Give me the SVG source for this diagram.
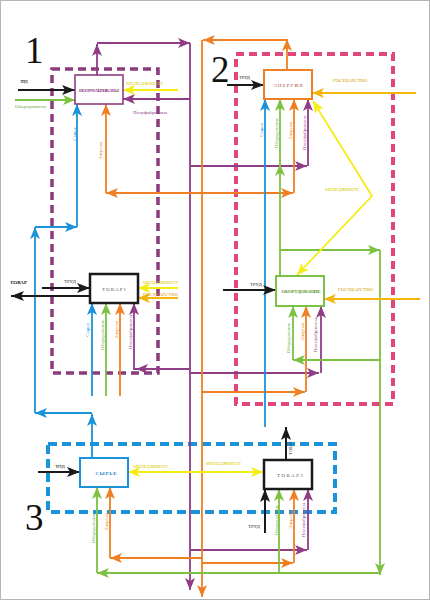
<svg xmlns="http://www.w3.org/2000/svg" width="430" height="600" viewBox="0 0 430 600">
<style>
.c{fill:none;stroke-width:1.8}
.p{stroke:#8f3d84}.o{stroke:#ef7f22}.b{stroke:#1b93d8}.g{stroke:#7cc142}.k{stroke:#1a1a1a;stroke-width:2}.y{stroke:#f5ec12}.gd{stroke:#f5b50f}
.box{fill:#fff}
.t{font-family:"Liberation Serif","DejaVu Serif",serif}
.s{font-size:5px}
.n{font-family:"Liberation Serif","DejaVu Serif",serif;font-size:37px;fill:#111}
</style>
<defs>
<marker id="aP" markerUnits="userSpaceOnUse" markerWidth="12" markerHeight="10" refX="12" refY="5" orient="auto"><path d="M0,0 L12,5 L0,10 L3,5 z" fill="#8f3d84"/></marker>
<marker id="aO" markerUnits="userSpaceOnUse" markerWidth="12" markerHeight="10" refX="12" refY="5" orient="auto"><path d="M0,0 L12,5 L0,10 L3,5 z" fill="#ef7f22"/></marker>
<marker id="aB" markerUnits="userSpaceOnUse" markerWidth="12" markerHeight="10" refX="12" refY="5" orient="auto"><path d="M0,0 L12,5 L0,10 L3,5 z" fill="#1b93d8"/></marker>
<marker id="aG" markerUnits="userSpaceOnUse" markerWidth="12" markerHeight="10" refX="12" refY="5" orient="auto"><path d="M0,0 L12,5 L0,10 L3,5 z" fill="#7cc142"/></marker>
<marker id="aK" markerUnits="userSpaceOnUse" markerWidth="13" markerHeight="10" refX="13" refY="5" orient="auto"><path d="M0,0 L13,5 L0,10 L3,5 z" fill="#1a1a1a"/></marker>
<marker id="aY" markerUnits="userSpaceOnUse" markerWidth="12" markerHeight="10" refX="12" refY="5" orient="auto"><path d="M0,0 L12,5 L0,10 L3,5 z" fill="#f5ec12"/></marker>
<marker id="aGd" markerUnits="userSpaceOnUse" markerWidth="12" markerHeight="10" refX="12" refY="5" orient="auto"><path d="M0,0 L12,5 L0,10 L3,5 z" fill="#f5b50f"/></marker>
</defs>
<rect x="0.5" y="0.5" width="429" height="599" fill="#fff" stroke="#b5b5b5"/>

<g id="frames" fill="none">
<rect x="52" y="69" width="106" height="304" stroke="#8b3a7d" stroke-width="3.5" stroke-dasharray="8 5"/>
<rect x="236" y="54" width="157" height="350" stroke="#e0487a" stroke-width="4" stroke-dasharray="8 5"/>
<rect x="48" y="444" width="287" height="68" stroke="#1b93d8" stroke-width="4" stroke-dasharray="9 5"/>
<text class="n" x="25" y="63">1</text>
<text class="n" x="211" y="82">2</text>
<text class="n" x="25" y="530">3</text>
</g>

<g id="connectors">
<!-- purple -->
<path class="c p" d="M97,75 V44" marker-end="url(#aP)"/>
<path class="c p" d="M97,43 H190" marker-end="url(#aP)"/>
<path class="c p" d="M190,43 V590" marker-end="url(#aP)"/>
<path class="c p" d="M190,99 H123" marker-end="url(#aP)"/>
<path class="c p" d="M190,166 H307" marker-end="url(#aP)"/>
<path class="c p" d="M308,166 V99" marker-end="url(#aP)"/>
<path class="c p" d="M190,369 H136" marker-end="url(#aP)"/>
<path class="c p" d="M136,369 H134 V303" marker-end="url(#aP)"/>
<path class="c p" d="M190,373 H319" marker-end="url(#aP)"/>
<path class="c p" d="M321,373 V306" marker-end="url(#aP)"/>
<path class="c p" d="M190,550 H307" marker-end="url(#aP)"/>
<path class="c p" d="M308,550 V489" marker-end="url(#aP)"/>
<!-- orange -->
<path class="c o" d="M287,70 V39" marker-end="url(#aO)"/>
<path class="c o" d="M287,40 H203" marker-end="url(#aO)"/>
<path class="c o" d="M202,40 V597" marker-end="url(#aO)"/>
<path class="c o" d="M202,193 H106" marker-end="url(#aO)"/>
<path class="c o" d="M106,193 V104" marker-end="url(#aO)"/>
<path class="c o" d="M202,193 H293" marker-end="url(#aO)"/>
<path class="c o" d="M294,193 V99" marker-end="url(#aO)"/>
<path class="c o" d="M202,392 H305" marker-end="url(#aO)"/>
<path class="c o" d="M306,392 V306" marker-end="url(#aO)"/>
<path class="c o" d="M120,396 V303" marker-end="url(#aO)"/>
<path class="c o" d="M202,558 H110" marker-end="url(#aO)"/>
<path class="c o" d="M110,558 V487" marker-end="url(#aO)"/>
<path class="c o" d="M202,563 H293" marker-end="url(#aO)"/>
<path class="c o" d="M294,563 V489" marker-end="url(#aO)"/>
<!-- blue -->
<path class="c b" d="M92,458 V414" marker-end="url(#aB)"/>
<path class="c b" d="M92,413 H35" marker-end="url(#aB)"/>
<path class="c b" d="M35,413 V227" marker-end="url(#aB)"/>
<path class="c b" d="M35,227 H77" marker-end="url(#aB)"/>
<path class="c b" d="M77,227 V104" marker-end="url(#aB)"/>
<path class="c b" d="M265,427 V99" marker-end="url(#aB)"/>
<path class="c b" d="M92,396 V303" marker-end="url(#aB)"/>
<!-- green -->
<path class="c g" d="M280,276 V164" marker-end="url(#aG)"/>
<path class="c g" d="M280,166 V99" marker-end="url(#aG)"/>
<path class="c g" d="M280,250 H380" marker-end="url(#aG)"/>
<path class="c g" d="M380,250 V575" marker-end="url(#aG)"/>
<path class="c g" d="M380,360 H293" marker-end="url(#aG)"/>
<path class="c g" d="M293,360 V306" marker-end="url(#aG)"/>
<path class="c g" d="M380,573 H97" marker-end="url(#aG)"/>
<path class="c g" d="M97,573 V487" marker-end="url(#aG)"/>
<path class="c g" d="M279,573 V489" marker-end="url(#aG)"/>
<path class="c g" d="M106,396 V303" marker-end="url(#aG)"/>
<path class="c g" d="M15,100 H75" marker-end="url(#aG)"/>
<!-- black -->
<path class="c k" d="M18,90 H75" marker-end="url(#aK)"/>
<path class="c k" d="M227,85 H264" marker-end="url(#aK)"/>
<path class="c k" d="M223,290 H276" marker-end="url(#aK)"/>
<path class="c k" d="M42,288 H90" marker-end="url(#aK)"/>
<path class="c k" d="M90,296 H11" marker-end="url(#aK)"/>
<path class="c k" d="M38,472 H80" marker-end="url(#aK)"/>
<path class="c k" d="M265,533 V489" marker-end="url(#aK)"/>
<path class="c k" d="M286,460 V427" marker-end="url(#aK)"/>
<!-- yellow / gold -->
<path class="c y" d="M178,90 H123" marker-end="url(#aY)"/>
<path class="c y" d="M372,196 L313,101" marker-end="url(#aY)"/>
<path class="c y" d="M372,196 L297,275" marker-end="url(#aY)"/>
<path class="c y" d="M178,288 H138" marker-end="url(#aY)"/>
<path class="c y" d="M195,472 H128" marker-end="url(#aY)"/>
<path class="c y" d="M195,472 H263" marker-end="url(#aY)"/>
<path class="c gd" d="M416,93 H312" marker-end="url(#aGd)"/>
<path class="c gd" d="M420,299 H324" marker-end="url(#aGd)"/>
<path class="c gd" d="M178,298 H138" marker-end="url(#aGd)"/>

<!-- connector labels -->
<g class="t s">
<text x="20" y="83" fill="#333" textLength="8">ТРУД</text>
<text x="15" y="108" fill="#6aa83a" textLength="32">Оборудование</text>
<text x="126" y="85" fill="#d9cc00" textLength="37">МЕНЕДЖМЕНТ</text>
<text x="133" y="114" fill="#8f3d84" textLength="34">Полуфабрикаты</text>
<text x="239" y="79" fill="#333" textLength="11">ТРУД</text>
<text x="333" y="82" fill="#d49a00" textLength="34">ГОСУДАРСТВО</text>
<text x="325" y="191" fill="#d9cc00" textLength="34">МЕНЕДЖМЕНТ</text>
<text x="250" y="286" fill="#333" textLength="12">ТРУД</text>
<text x="338" y="291" fill="#d49a00" textLength="35">ГОСУДАРСТВО</text>
<text x="10" y="284" fill="#111" font-weight="bold" textLength="17">ТОВАР</text>
<text x="64" y="283" fill="#333" textLength="12">ТРУД</text>
<text x="143" y="284" fill="#d9cc00" textLength="35">МЕНЕДЖМЕНТ</text>
<text x="143" y="296" fill="#d49a00" textLength="35">ГОСУДАРСТВО</text>
<text x="55" y="468" fill="#333" textLength="10">ТРУД</text>
<text x="133" y="468" fill="#d9cc00" textLength="35">МЕНЕДЖМЕНТ</text>
<text x="206" y="465" fill="#d9cc00" textLength="35">МЕНЕДЖМЕНТ</text>
<text x="248" y="528" fill="#333" textLength="12">ТРУД</text>
<text transform="translate(292,448) rotate(-90)" text-anchor="middle" fill="#333" font-size="4">ТОВАР</text>
<!-- rotated input labels -->
<text transform="translate(76,134) rotate(-90)" text-anchor="middle" fill="#1b93d8">Сырье</text>
<text transform="translate(102,151) rotate(-90)" text-anchor="middle" fill="#ef7f22">Энергия</text>
<text transform="translate(263,130) rotate(-90)" text-anchor="middle" fill="#1b93d8">Сырье</text>
<text transform="translate(278,133) rotate(-90)" text-anchor="middle" fill="#6aa83a">Оборудование</text>
<text transform="translate(292,131) rotate(-90)" text-anchor="middle" fill="#ef7f22">Энергия</text>
<text transform="translate(306,133) rotate(-90)" text-anchor="middle" fill="#8f3d84">Полуфабрикаты</text>
<text transform="translate(89,330) rotate(-90)" text-anchor="middle" fill="#1b93d8">Сырье</text>
<text transform="translate(104,335) rotate(-90)" text-anchor="middle" fill="#6aa83a">Оборудование</text>
<text transform="translate(118,330) rotate(-90)" text-anchor="middle" fill="#ef7f22">Энергия</text>
<text transform="translate(132,332) rotate(-90)" text-anchor="middle" fill="#8f3d84">Полуфабрикаты</text>
<text transform="translate(290,338) rotate(-90)" text-anchor="middle" fill="#6aa83a">Оборудование</text>
<text transform="translate(304,332) rotate(-90)" text-anchor="middle" fill="#ef7f22">Энергия</text>
<text transform="translate(317,335) rotate(-90)" text-anchor="middle" fill="#8f3d84">Полуфабрикаты</text>
<text transform="translate(95,528) rotate(-90)" text-anchor="middle" fill="#6aa83a">Оборудование</text>
<text transform="translate(108,522) rotate(-90)" text-anchor="middle" fill="#ef7f22">Энергия</text>
<text transform="translate(278,520) rotate(-90)" text-anchor="middle" fill="#6aa83a">Оборудование</text>
<text transform="translate(292,520) rotate(-90)" text-anchor="middle" fill="#ef7f22">Энергия</text>
<text transform="translate(305,520) rotate(-90)" text-anchor="middle" fill="#8f3d84">Полуфабрикаты</text>
</g>
</g>

<g id="polufabrikaty">
<rect class="box" x="75" y="75" width="48" height="29" stroke="#8f3d84" stroke-width="1.6"/>
<text class="t" x="99" y="91.5" font-size="5" text-anchor="middle" fill="#8f3d84" font-weight="bold" textLength="40">ПОЛУФАБРИКАТЫ</text>
</g>
<g id="energiya">
<rect class="box" x="264" y="70" width="48" height="29" stroke="#ef7f22" stroke-width="2"/>
<text class="t" x="288" y="87" font-size="5" text-anchor="middle" fill="#a0522d" textLength="29">ЭНЕРГИЯ</text>
</g>
<g id="tovar1">
<rect class="box" x="90" y="274" width="48" height="29" stroke="#1a1a1a" stroke-width="2.5"/>
<text class="t" x="114" y="291" font-size="5" text-anchor="middle" fill="#555" textLength="24">ТОВАР1</text>
</g>
<g id="oborudovanie">
<rect class="box" x="276" y="276" width="48" height="30" stroke="#7cc142" stroke-width="2"/>
<text class="t" x="301" y="293" font-size="5" text-anchor="middle" fill="#5e9a30" font-weight="bold" textLength="39">ОБОРУДОВАНИЕ</text>
</g>
<g id="syrye">
<rect class="box" x="80" y="458" width="48" height="29" stroke="#1b93d8" stroke-width="2"/>
<text class="t" x="106" y="475" font-size="5" text-anchor="middle" fill="#1b7fc0" font-weight="bold" textLength="21">СЫРЬЕ</text>
</g>
<g id="tovar2">
<rect class="box" x="264" y="460" width="48" height="29" stroke="#1a1a1a" stroke-width="2.5"/>
<text class="t" x="290" y="477" font-size="5" text-anchor="middle" fill="#555" textLength="26">ТОВАР2</text>
</g>
</svg>
